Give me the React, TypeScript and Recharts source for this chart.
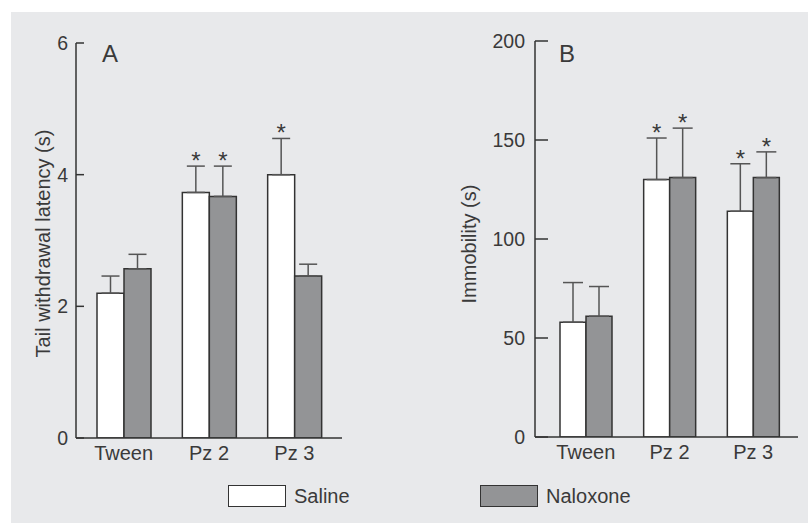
import React from "react";
import {
  BarChart,
  Bar,
  XAxis,
  YAxis,
  ErrorBar,
  LabelList,
  Label,
} from "recharts";

const categories = ["Tween", "Pz 2", "Pz 3"];
const seriesNames = ["Saline", "Naloxone"];

// panel A: tail withdrawal latency (s)
const latencySaline = [2.2, 3.73, 4.0];
const latencySalineErr = [0.26, 0.4, 0.55];
const latencySalineSig = [false, true, true];
const latencyNaloxone = [2.57, 3.67, 2.46];
const latencyNaloxoneErr = [0.22, 0.46, 0.18];
const latencyNaloxoneSig = [false, true, false];
const latencyTicks = [0, 2, 4, 6];

// panel B: immobility (s)
const immobilitySaline = [58, 130, 114];
const immobilitySalineErr = [20, 21, 24];
const immobilitySalineSig = [false, true, true];
const immobilityNaloxone = [61, 131, 131];
const immobilityNaloxoneErr = [15, 25, 13];
const immobilityNaloxoneSig = [false, true, true];
const immobilityTicks = [0, 50, 100, 150, 200];

const FONT = "'Liberation Sans', Arial, sans-serif";
const TEXT = "#3a3a3a";
const AXIS = "#333333";
const ERR = "#555555";
const SALINE_FILL = "#ffffff";
const NALOXONE_FILL = "#939496";
const PANEL = "#e8e9eb";

function buildRows(sal: number[], salErr: number[], nal: number[], nalErr: number[]) {
  return categories.map((name, i) => ({
    name,
    saline: sal[i],
    salineErr: [0, salErr[i]],
    naloxone: nal[i],
    naloxoneErr: [0, nalErr[i]],
  }));
}

// asterisk over the error cap, positioned from the bar's own pixel scale
function starContent(vals: number[], errs: number[], sig: boolean[]) {
  return (props: any) => {
    const vb = props.viewBox || props;
    const index = props.index;
    if (index == null || !sig[index]) return null;
    const x = Number(vb.x);
    const y = Number(vb.y);
    const w = Number(vb.width);
    const h = Number(vb.height);
    const top = y - (errs[index] * h) / vals[index];
    return (
      <text
        x={x + w / 2}
        y={top + 3}
        textAnchor="middle"
        fontSize={24}
        fontFamily={FONT}
        fill={TEXT}
      >
        *
      </text>
    );
  };
}

function makeYTick(tickLen: number, gap: number) {
  return (props: any) => {
    const { x, y, payload } = props;
    return (
      <g>
        <line x1={x} y1={y} x2={x + tickLen} y2={y} stroke={AXIS} strokeWidth={1.5} />
        <text
          x={x - gap}
          y={y + 7}
          textAnchor="end"
          fontSize={19.5}
          fontFamily={FONT}
          fill={TEXT}
        >
          {payload.value}
        </text>
      </g>
    );
  };
}

function XTick(props: any) {
  const { x, y, payload } = props;
  return (
    <text x={x} y={y + 22} textAnchor="middle" fontSize={20} fontFamily={FONT} fill={TEXT}>
      {payload.value}
    </text>
  );
}

function yLabel(text: string, dx: number, dy: number) {
  return (props: any) => {
    const vb = props.viewBox;
    const cx = vb.x + dx;
    const cy = vb.y + vb.height / 2 + dy;
    return (
      <text
        x={cx}
        y={cy}
        transform={`rotate(-90, ${cx}, ${cy})`}
        textAnchor="middle"
        dominantBaseline="central"
        fontSize={20}
        fontFamily={FONT}
        fill={TEXT}
      >
        {text}
      </text>
    );
  };
}

interface PanelProps {
  letter: string;
  letterX: number;
  title: string;
  titleDx: number;
  titleDy: number;
  left: number;
  margin: { top: number; right: number; bottom: number; left: number };
  sal: number[];
  salErr: number[];
  salSig: boolean[];
  nal: number[];
  nalErr: number[];
  nalSig: boolean[];
  ticks: number[];
  tickLen: number;
  tickGap: number;
  pad: { left: number; right: number };
  barSize: number;
  capHalf: number;
}

function Panel(p: PanelProps) {
  const data = buildRows(p.sal, p.salErr, p.nal, p.nalErr);
  const max = p.ticks[p.ticks.length - 1];
  return (
    <div style={{ position: "absolute", left: p.left, top: 0 }}>
      <BarChart width={404} height={523} data={data} margin={p.margin} barGap={0} barSize={p.barSize}>
        <XAxis
          dataKey="name"
          interval={0}
          padding={p.pad}
          axisLine={{ stroke: AXIS, strokeWidth: 1.5 }}
          tickLine={false}
          tickSize={0}
          tickMargin={0}
          height={30}
          tick={<XTick />}
        />
        <YAxis
          type="number"
          domain={[0, max]}
          ticks={p.ticks}
          allowDataOverflow
          width={60}
          axisLine={{ stroke: AXIS, strokeWidth: 1.5 }}
          tickLine={false}
          tickSize={0}
          tickMargin={0}
          tick={makeYTick(p.tickLen, p.tickGap)}
        >
          <Label content={yLabel(p.title, p.titleDx, p.titleDy)} />
        </YAxis>
        <Bar
          dataKey="saline"
          name={seriesNames[0]}
          fill={SALINE_FILL}
          stroke={AXIS}
          strokeWidth={1.5}
          isAnimationActive={false}
        >
          <ErrorBar dataKey="salineErr" direction="y" width={p.capHalf} stroke={ERR} strokeWidth={1.5} />
          <LabelList dataKey="saline" content={starContent(p.sal, p.salErr, p.salSig)} />
        </Bar>
        <Bar
          dataKey="naloxone"
          name={seriesNames[1]}
          fill={NALOXONE_FILL}
          stroke={AXIS}
          strokeWidth={1.5}
          isAnimationActive={false}
        >
          <ErrorBar dataKey="naloxoneErr" direction="y" width={p.capHalf} stroke={ERR} strokeWidth={1.5} />
          <LabelList dataKey="naloxone" content={starContent(p.nal, p.nalErr, p.nalSig)} />
        </Bar>
        <text x={p.letterX} y={62} fontSize={24} fontFamily={FONT} fill={TEXT}>
          {p.letter}
        </text>
      </BarChart>
    </div>
  );
}

function LegendItem({ name, fill, left }: { name: string; fill: string; left: number }) {
  return (
    <div
      style={{
        position: "absolute",
        left,
        top: 484,
        display: "flex",
        alignItems: "center",
        fontFamily: FONT,
        fontSize: 20,
        color: TEXT,
      }}
    >
      <div
        style={{
          width: 56,
          height: 20,
          background: fill,
          border: `1.5px solid ${AXIS}`,
          marginRight: 8,
        }}
      />
      <span style={{ position: "relative", top: 1 }}>{name}</span>
    </div>
  );
}

export default function App() {
  return (
    <div
      style={{
        position: "absolute",
        left: 0,
        top: 0,
        width: 808,
        height: 523,
        background: "#ffffff",
        overflow: "hidden",
      }}
    >
      <div style={{ position: "absolute", left: 11, top: 12, right: 0, bottom: 0, background: PANEL }} />
      <Panel
        letter="A"
        letterX={102}
        title="Tail withdrawal latency (s)"
        titleDx={27}
        titleDy={3}
        left={0}
        margin={{ top: 43, right: 62, bottom: 55, left: 16 }}
        sal={latencySaline}
        salErr={latencySalineErr}
        salSig={latencySalineSig}
        nal={latencyNaloxone}
        nalErr={latencyNaloxoneErr}
        nalSig={latencyNaloxoneSig}
        ticks={latencyTicks}
        tickLen={8}
        tickGap={8}
        pad={{ left: 5, right: 5 }}
        barSize={27}
        capHalf={9}
      />
      <Panel
        letter="B"
        letterX={155}
        title="Immobility (s)"
        titleDx={-6}
        titleDy={5}
        left={404}
        margin={{ top: 41, right: 10, bottom: 56, left: 71 }}
        sal={immobilitySaline}
        salErr={immobilitySalineErr}
        salSig={immobilitySalineSig}
        nal={immobilityNaloxone}
        nalErr={immobilityNaloxoneErr}
        nalSig={immobilityNaloxoneSig}
        ticks={immobilityTicks}
        tickLen={13}
        tickGap={10}
        pad={{ left: 9, right: 3 }}
        barSize={26}
        capHalf={10}
      />
      <LegendItem name={seriesNames[0]} fill={SALINE_FILL} left={228} />
      <LegendItem name={seriesNames[1]} fill={NALOXONE_FILL} left={480} />
    </div>
  );
}
